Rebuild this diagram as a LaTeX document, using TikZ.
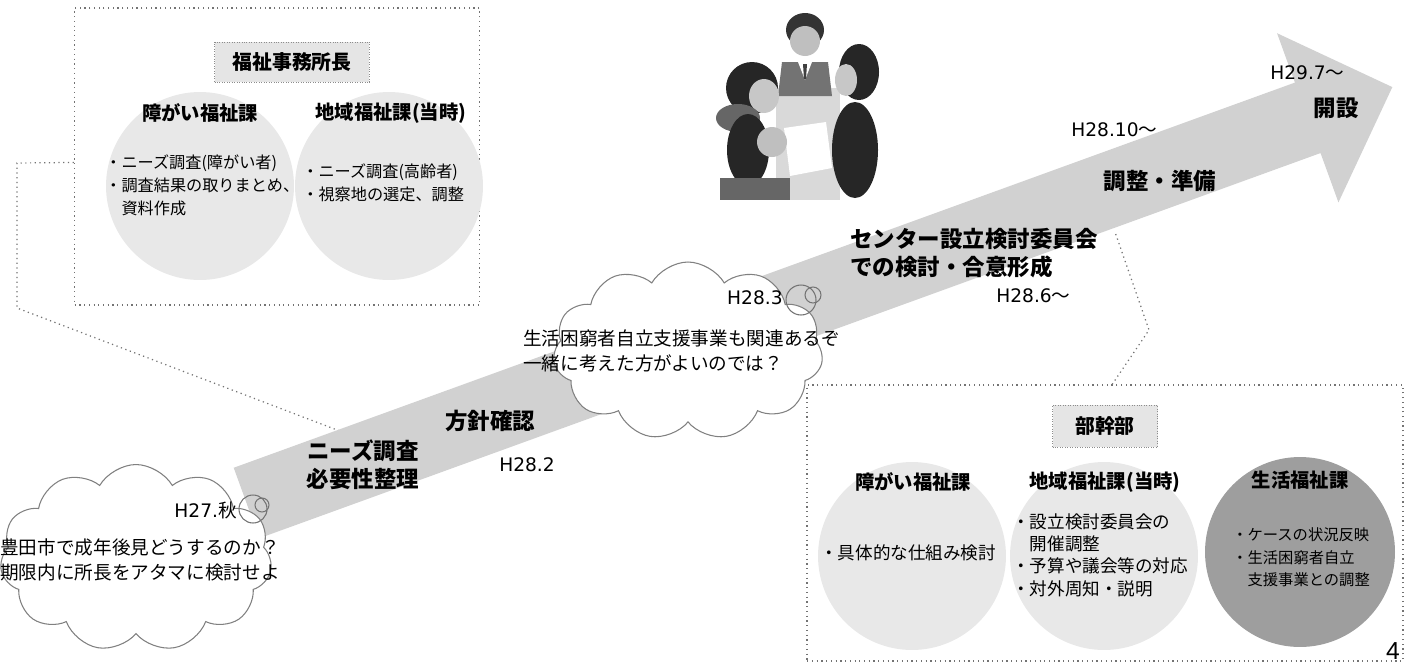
\documentclass[tikz,border=0pt]{standalone}
\usepackage{fontspec}
\setmainfont{Noto Sans CJK JP}
\newfontfamily\jpfont{Noto Sans CJK JP}
\newfontfamily\datefont{DejaVu Sans}
\newfontfamily\pagefont{Liberation Sans}
\usetikzlibrary{calc,positioning,shapes.symbols}

\begin{document}
\begin{tikzpicture}[x=0.02cm,y=-0.02cm]

\tikzset{dotbox/.style={draw=black!55,dotted,line width=0.7pt},
headbox/.style={draw=black!45,densely dotted,fill=black!10,inner sep=0pt,font=\fontsize{11.3}{13}\selectfont\bfseries},
lightdisc/.style={circle,fill=black!9,inner sep=0pt,minimum size=3.76cm},
darkdisc/.style={circle,fill=black!38,inner sep=0pt,minimum size=3.8cm},
section/.style={font=\fontsize{11}{13}\selectfont\bfseries,inner sep=0pt},
bullets/.style={align=left,inner sep=0pt,font=\fontsize{9.2}{13.3}\selectfont},
bigbullets/.style={align=left,inner sep=0pt,font=\fontsize{10}{12.7}\selectfont},
stage/.style={align=left,inner sep=0pt,font=\fontsize{12.8}{15.8}\selectfont\bfseries},
date/.style={inner sep=0pt,font=\fontsize{10.6}{12}\selectfont\datefont},
thought/.style={cloud,cloud puffs=11,cloud puff arc=120,draw=black!50,line width=0.6pt,fill=white,inner sep=0pt},
bubble/.style={circle,draw=black!55,line width=0.6pt,inner sep=0pt},
cloudtext/.style={align=left,inner sep=0pt,font=\fontsize{10.6}{14.5}\selectfont}}

\useasboundingbox (0,0) rectangle (1409,663);

% Boxes behind the timeline
\node (lbox) [dotbox,minimum width=8.1cm,minimum height=5.94cm] at (277,156.5) {};
\node (rbox) [dotbox,minimum width=11.92cm,minimum height=5.52cm] at (1105,523) {};

% callout legs, their ends go under the band
\coordinate (lleg1) at (17,163);
\coordinate (lleg2) at (17,308);
\coordinate (ltip) at (345,433);
\draw[dotbox] ($(lbox.north west)!0.52!(lbox.south west)$) -- (lleg1) -- (lleg2) -- (ltip);
\coordinate (rleg) at (1149,330);
\coordinate (rtip) at (1115,232);
\draw[dotbox] ($(rbox.north west)!0.512!(rbox.north east)$) -- (rleg) -- (rtip);

% Timeline band
\begin{scope}[shift={(246.5,503)},rotate=19.95]
\fill[black!18] (0,-37.5) -- (1129,-37.5) -- (1129,-90) -- (1219,0) -- (1129,90) -- (1129,37.5) -- (0,37.5) -- cycle;
\end{scope}

% Left box contents
\node (lhead) [headbox,minimum width=3.1cm,minimum height=0.8cm] at (292,62) {福祉事務所長};
\node (ldisc1) [lightdisc] at (200,186) {};
\node (ldisc2) [lightdisc] at (389,186) {};
\node (ltitle1) [section] at (200,113) {障がい福祉課};
\node (ltitle2) [section] at (391,113) {地域福祉課(当時)};
\node (ltext1) [bullets,anchor=north west] at (105,154) {・ニーズ調査(障がい者)\\・調査結果の取りまとめ、\\　資料作成};
\node (ltext2) [bullets,anchor=north west] at (302,163) {・ニーズ調査(高齢者)\\・視察地の選定、調整};

% Right box contents
\node (rhead) [headbox,minimum width=2.1cm,minimum height=0.84cm] at (1105,426) {部幹部};
\node (rdisc1) [lightdisc] at (912,556) {};
\node (rdisc2) [lightdisc] at (1104,556) {};
\node (rdisc3) [darkdisc] at (1300,552) {};
\node (rtitle1) [section] at (913,482) {障がい福祉課};
\node (rtitle2) [section] at (1105,482) {地域福祉課(当時)};
\node (rtitle3) [section] at (1300,480) {生活福祉課};
\node (rtext1) [bigbullets,anchor=west] at (820,553) {・具体的な仕組み検討};
\node (rtext2) [bigbullets,anchor=north west] at (1012,513) {・設立検討委員会の\\　開催調整\\・予算や議会等の対応\\・対外周知・説明};
\node (rtext3) [bullets,font=\fontsize{8.7}{13}\selectfont,anchor=north west] at (1232,527) {・ケースの状況反映\\・生活困窮者自立\\　支援事業との調整};

% Stage labels on the band
\node (needs) [stage,align=center] at (363,465) {ニーズ調査\\必要性整理};
\node (policy) [stage] at (490,421) {方針確認};
\node (committee) [stage,anchor=west] at (850,253) {センター設立検討委員会\\での検討・合意形成};
\node (prep) [stage] at (1160,181) {調整・準備};
\node (open) [stage] at (1336,108) {開設};

% Dates
\node (d282) [date] at (527,465) {H28.2};
\node (d286) [date,anchor=west] at (996,296) {H28.6\jpfont ～};
\node (d2810) [date,anchor=west] at (1071,130) {H28.10\jpfont ～};
\node (d297) [date,anchor=west] at (1270,73) {H29.7\jpfont ～};

% Thought clouds
\node (cloud1) [thought,aspect=1.45,minimum width=5.44cm,minimum height=3.74cm] at (136,558) {};
\node (cloud2) [thought,aspect=1.5,minimum width=5.4cm,minimum height=3.56cm] at (688,351) {};
\node (b1a) [bubble,minimum size=0.56cm] at (253,509) {};
\node (b1b) [bubble,minimum size=0.28cm] at (262,505) {};
\node (b2a) [bubble,minimum size=0.6cm] at (801,300) {};
\node (b2b) [bubble,minimum size=0.32cm] at (813,295) {};
\node (d27) [date,anchor=east] at (237,510) {H27.\jpfont 秋};
\node (d283) [date,anchor=east] at (783,298) {H28.3};
\node (q1) [cloudtext,anchor=north west] at (0,538) {豊田市で成年後見どうするのか？\\期限内に所長をアタマに検討せよ};
\node (q2) [cloudtext,anchor=north west] at (523,329) {生活困窮者自立支援事業も関連あるぞ\\一緒に考えた方がよいのでは？};

% Meeting illustration
\fill[black!15] (776,88) rectangle (840,200); % table
\fill[white] (784,128) -- (826,122) -- (832,168) -- (790,176) -- cycle; % papers
\fill[black!80] (805,30) ellipse (19 and 17); % man at the back
\fill[black!25] (805,41) ellipse (15 and 15);
\fill[black!55] (778,96) -- (782,62) -- (828,62) -- (832,96) -- cycle;
\fill[white] (798,62) -- (812,62) -- (805,80) -- cycle;
\fill[black!75] (803,64) -- (807,64) -- (806,79) -- (804,79) -- cycle;
\fill[black!85] (752,88) circle (26); % woman on the left
\fill[black!22] (764,96) ellipse (15 and 17);
\fill[black!60] (738,118) ellipse (22 and 14);
\fill[black!85] (855,150) ellipse (23 and 48); % woman on the right
\fill[black!85] (859,72) ellipse (20 and 28);
\fill[black!22] (846,80) ellipse (11 and 16);
\fill[black!85] (748,150) ellipse (21 and 36); % man in front
\fill[black!25] (772,142) circle (15);
\fill[black!60] (720,178) rectangle (790,200);

% Page number
\node (page) [font=\fontsize{14}{16}\selectfont\pagefont,inner sep=0pt] at (1393,651) {4};

\end{tikzpicture}
\end{document}
